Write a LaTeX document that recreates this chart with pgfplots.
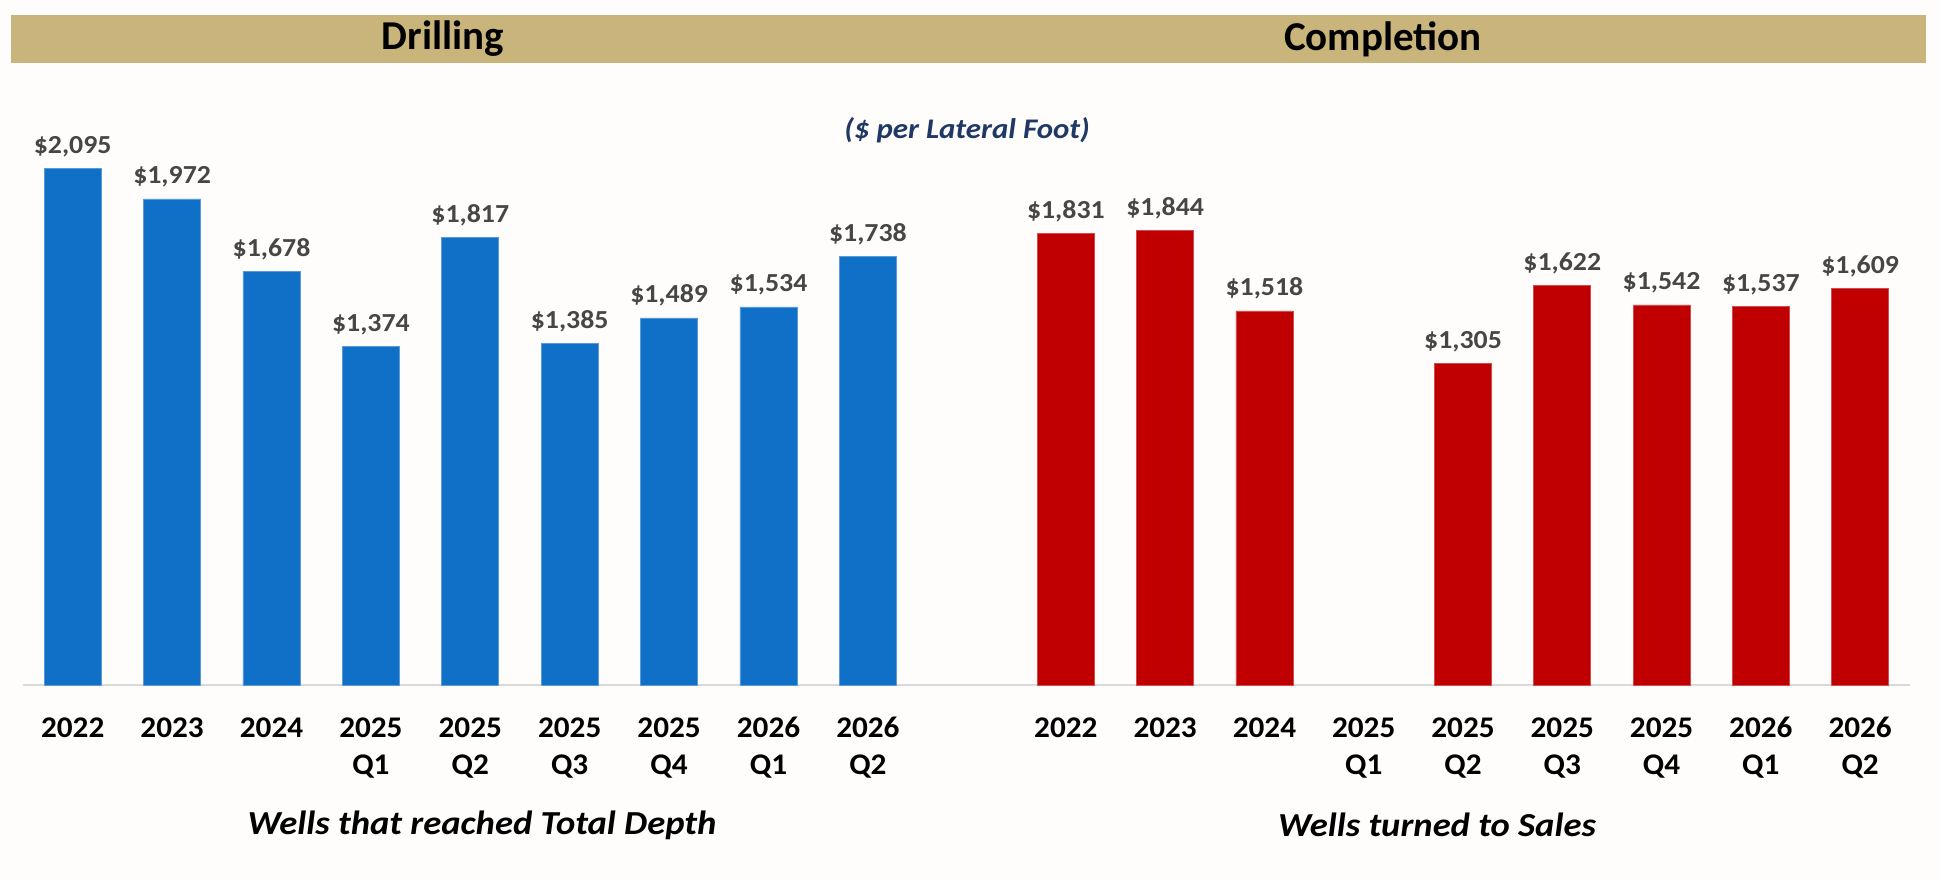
\documentclass[border=0pt]{standalone}
\usepackage{pgfplots}
\pgfplotsset{compat=1.18}
\usepackage{fontspec}
\setmainfont{Carlito}
\newfontfamily\stretchA[FakeStretch=1.04]{Carlito}
\newfontfamily\stretchB[FakeStretch=1.07]{Carlito}
\newfontfamily\stretchC[FakeStretch=1.09]{Carlito}
\definecolor{band}{RGB}{201,181,123}
\definecolor{barblue}{RGB}{16,112,199}
\definecolor{barred}{RGB}{192,0,0}
\definecolor{lblgray}{RGB}{70,70,70}
\definecolor{subblue}{RGB}{31,56,100}
\definecolor{bg}{RGB}{254,253,252}
\pgfplotsset{mybar/.style={
  scale only axis, ybar, bar width=28.5pt, ymin=0, ymax=2400, height=295.8pt,
  hide y axis, axis x line*=bottom,
  x axis line style={draw=black!15, line width=1pt, -},
  major tick length=0pt, xtick={0,...,8},
  xticklabels={2022,2023,2024,2025\\Q1,2025\\Q2,2025\\Q3,2025\\Q4,2026\\Q1,2026\\Q2},
  xticklabel style={font=\stretchA\fontsize{15}{18.5}\selectfont\bfseries, align=center, anchor=north, inner sep=0pt, yshift=-16pt},
  /pgf/number format/fixed, /pgf/number format/precision=0,
  /pgf/number format/1000 sep={,}, /pgf/number format/assume math mode=true,
  nodes near coords={\$\pgfmathprintnumber{\pgfplotspointmeta}},
  nodes near coords style={font=\stretchB\fontsize{13}{15}\selectfont\bfseries, text=lblgray, anchor=base, yshift=7.5pt},
  clip=false, anchor=south west,
}}
\begin{document}
\begin{tikzpicture}
\useasboundingbox (0,0) rectangle (970pt,440pt);
\fill[bg] (0,0) rectangle (970pt,440pt);
\fill[band] (5.5pt,408.5pt) rectangle (963pt,432.5pt);
\node[font=\fontsize{20.5}{24}\selectfont\bfseries] at (221.5pt,420.5pt) {Drilling};
\node[font=\fontsize{20.5}{24}\selectfont\bfseries] at (691.5pt,420.5pt) {Completion};
\node[font=\stretchC\fontsize{14.2}{17}\selectfont\bfseries\itshape, text=subblue] at (483.5pt,375pt) {(\$ per Lateral Foot)};

\begin{axis}[mybar, at={(11.5pt,97.5pt)}, width=497pt, xmin=-0.5, xmax=9.5]
\addplot[fill=barblue, draw=barblue!70!white, line width=0.3pt] coordinates {
(0,2095) (1,1972) (2,1678) (3,1374) (4,1817) (5,1385) (6,1489) (7,1534) (8,1738)};
\end{axis}

\begin{axis}[mybar, at={(508.1pt,97.5pt)}, width=446.8pt, xmin=-0.5, xmax=8.5]
\addplot[fill=barred, draw=barred!70!white, line width=0.3pt] coordinates {
(0,1831) (1,1844) (2,1518) (4,1305) (5,1622) (6,1542) (7,1537) (8,1609)};
\end{axis}

\node[font=\stretchC\fontsize{16.8}{20}\selectfont\bfseries\itshape] at (241pt,27.5pt) {Wells that reached Total Depth};
\node[font=\stretchC\fontsize{16.8}{20}\selectfont\bfseries\itshape] at (718.5pt,27.5pt) {Wells turned to Sales};
\end{tikzpicture}
\end{document}
